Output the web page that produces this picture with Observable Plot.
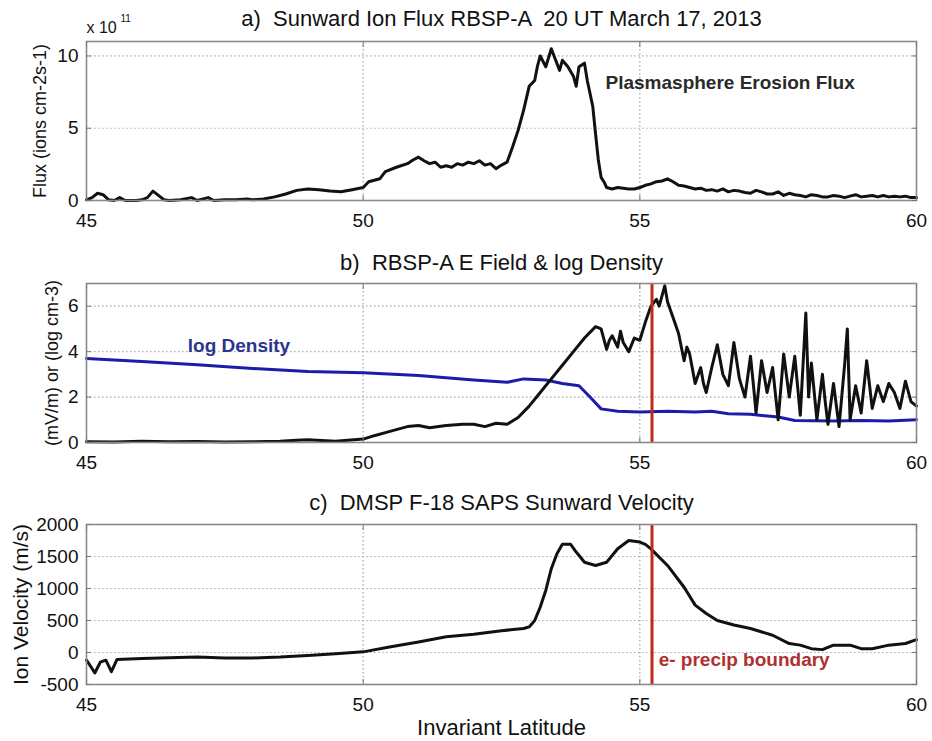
<!DOCTYPE html>
<html><head><meta charset="utf-8">
<script src="https://cdn.jsdelivr.net/npm/d3@7"></script>
<script src="https://cdn.jsdelivr.net/npm/@observablehq/plot@0.6"></script>
<style>
body{margin:0;background:#fff;}
#wrap{position:relative;width:932px;height:741px;font-family:"Liberation Sans",Arial,sans-serif;}
#wrap svg{position:absolute;left:0;overflow:visible}
#wrap svg text{white-space:pre}
</style></head><body><div id="wrap"></div>
<script>
// ---------- data ----------
const xTicks = [45, 50, 55, 60];
const fluxTicks = [0, 5, 10];
const eTicks = [0, 2, 4, 6];
const velTicks = [-500, 0, 500, 1000, 1500, 2000];

const titleA = "a)  Sunward Ion Flux RBSP-A  20 UT March 17, 2013";
const titleB = "b)  RBSP-A E Field & log Density";
const titleC = "c)  DMSP F-18 SAPS Sunward Velocity";
const yLabelA = "Flux (ions cm-2s-1)";
const yLabelB = "(mV/m) or (log cm-3)";
const yLabelC = "Ion Velocity (m/s)";
const xLabel = "Invariant Latitude";

// a) sunward ion flux (x 10^11)
const latA = [45.0,45.1,45.2,45.3,45.4,45.5,45.6,45.7,45.9,46.0,46.1,46.2,46.3,46.4,46.5,46.7,46.9,47.0,47.2,47.3,47.5,47.7,47.9,48.0,48.2,48.4,48.6,48.8,49.0,49.2,49.4,49.6,49.8,50.0,50.1,50.3,50.4,50.6,50.8,50.9,51.0,51.1,51.2,51.3,51.4,51.5,51.6,51.7,51.8,51.9,52.0,52.1,52.2,52.3,52.4,52.5,52.6,52.7,52.8,52.9,53.0,53.1,53.15,53.2,53.3,53.4,53.45,53.55,53.6,53.7,53.8,53.85,53.9,54.0,54.05,54.1,54.15,54.2,54.25,54.3,54.35,54.4,54.5,54.6,54.7,54.8,54.9,55.0,55.1,55.2,55.3,55.4,55.5,55.6,55.7,55.8,55.9,56.0,56.1,56.2,56.3,56.4,56.5,56.6,56.7,56.8,56.9,57.0,57.1,57.2,57.3,57.4,57.5,57.6,57.7,57.8,57.9,58.0,58.1,58.2,58.3,58.4,58.5,58.6,58.7,58.8,58.9,59.0,59.1,59.2,59.3,59.4,59.5,59.6,59.7,59.8,59.9,60.0];
const fluxA = [0.05,0.2,0.5,0.4,0.05,0.0,0.2,0.0,0.0,0.05,0.2,0.65,0.35,0.05,0.0,0.05,0.2,0.0,0.2,0.0,0.05,0.05,0.1,0.05,0.1,0.25,0.45,0.7,0.8,0.75,0.65,0.6,0.75,0.9,1.3,1.5,2.0,2.3,2.55,2.8,3.0,2.75,2.55,2.65,2.3,2.4,2.3,2.55,2.45,2.65,2.55,2.75,2.45,2.55,2.2,2.45,2.65,3.7,4.85,6.25,7.9,8.3,9.3,10.0,9.25,10.5,10.0,9.0,9.7,9.25,8.6,7.9,9.25,9.5,8.3,7.4,6.5,4.6,2.8,1.6,1.3,0.9,0.8,0.9,0.85,0.8,0.8,0.9,1.05,1.15,1.3,1.35,1.5,1.3,1.05,1.0,0.9,0.8,0.85,0.7,0.75,0.65,0.8,0.6,0.7,0.65,0.55,0.5,0.7,0.6,0.45,0.45,0.6,0.35,0.5,0.4,0.35,0.25,0.4,0.35,0.25,0.25,0.35,0.3,0.2,0.3,0.4,0.25,0.3,0.35,0.25,0.35,0.25,0.3,0.25,0.3,0.2,0.2];

// b) E field (mV/m)
const latE = [45.0,45.5,46.0,46.5,47.0,47.5,48.0,48.5,48.8,49.0,49.5,50.0,50.2,50.5,50.8,51.0,51.2,51.5,51.8,52.0,52.2,52.4,52.6,52.8,53.0,53.2,53.4,53.6,53.8,54.0,54.2,54.3,54.4,54.45,54.5,54.6,54.65,54.7,54.8,54.9,55.0,55.1,55.2,55.3,55.35,55.45,55.5,55.6,55.7,55.8,55.85,55.9,56.0,56.1,56.15,56.2,56.3,56.4,56.5,56.6,56.7,56.8,56.9,57.0,57.05,57.1,57.2,57.3,57.4,57.5,57.6,57.7,57.8,57.9,58.0,58.05,58.1,58.2,58.3,58.35,58.4,58.5,58.6,58.7,58.75,58.8,58.9,59.0,59.1,59.2,59.3,59.4,59.5,59.6,59.7,59.8,59.9,60.0];
const eField = [0.03,0.02,0.05,0.03,0.04,0.02,0.03,0.05,0.1,0.12,0.05,0.15,0.3,0.5,0.7,0.75,0.65,0.75,0.8,0.8,0.7,0.85,0.8,1.1,1.6,2.2,2.8,3.4,4.0,4.6,5.1,5.0,4.1,4.5,4.7,4.2,4.9,4.4,4.0,4.6,4.5,5.3,6.0,6.3,6.0,6.9,6.2,5.5,4.8,3.6,4.2,3.9,2.6,3.3,2.6,2.2,3.3,4.3,3.0,2.5,4.4,2.8,2.0,3.8,2.6,1.3,3.6,2.2,3.3,1.0,3.9,2.0,3.8,1.2,5.7,2.0,3.5,1.0,3.0,1.8,0.8,2.6,0.7,3.4,5.0,1.0,2.5,1.3,3.6,1.5,2.5,1.8,2.6,2.2,1.5,2.7,1.8,1.6];

// b) log density (log cm-3)
const latD = [45.0,46.0,47.0,48.0,49.0,50.0,51.0,52.0,52.6,52.9,53.3,53.6,53.9,54.1,54.3,54.6,55.0,55.5,56.0,56.3,56.6,57.0,57.5,57.8,58.5,59.0,59.5,60.0];
const logDensity = [3.7,3.57,3.42,3.26,3.13,3.07,2.95,2.75,2.65,2.8,2.75,2.6,2.5,2.0,1.48,1.38,1.34,1.38,1.34,1.38,1.27,1.24,1.12,0.97,0.95,0.97,0.95,1.0];

// c) DMSP ion velocity (m/s)
const latV = [45.0,45.1,45.15,45.25,45.35,45.45,45.55,46.0,47.0,47.5,48.0,48.5,49.0,49.5,50.0,50.5,51.0,51.5,52.0,52.5,52.9,53.0,53.1,53.2,53.3,53.4,53.5,53.6,53.75,53.85,54.0,54.2,54.4,54.6,54.8,55.0,55.1,55.2,55.5,55.8,56.0,56.2,56.4,56.7,57.0,57.4,57.7,57.9,58.1,58.3,58.5,58.8,59.0,59.2,59.5,59.8,60.0];
const velocity = [-120,-250,-320,-150,-120,-300,-110,-95,-70,-85,-85,-70,-45,-20,10,90,165,245,285,340,375,400,500,710,970,1310,1540,1690,1690,1570,1410,1360,1410,1620,1750,1725,1690,1620,1360,1020,740,610,500,430,375,270,140,115,60,45,115,115,60,60,115,140,200];

// annotations and marker
const boundaryLat = 55.22;
const noteA = "Plasmasphere Erosion Flux";
const noteB = "log Density";
const noteC = "e- precip boundary";

// ---------- drawing ----------
const wrap = document.getElementById("wrap");
const FONT = '"Liberation Sans", Arial, sans-serif';
const dot = {stroke: "#a8a8a8", strokeOpacity: 1, strokeWidth: 1.2, strokeDasharray: "1.5,2.5"};
const plain = d => String(d);

function panel({top, height, mt, mb, yDomain, yTicks, marks, title, titleDy, ylabel, ylabelX, ylabelSize = 18, extra = []}) {
  const svg = Plot.plot({
    width: 932, height,
    marginLeft: 86, marginRight: 16, marginTop: mt, marginBottom: mb,
    style: {fontFamily: FONT, fontSize: "19px", color: "#111", background: "transparent", overflow: "visible"},
    x: {domain: [45, 60]},
    y: {domain: yDomain},
    marks: [
      Plot.gridY(yTicks, dot),
      Plot.gridX([50, 55], dot),
      ...marks,
      Plot.frame({stroke: "#8a8a8a", strokeWidth: 1.6}),
      Plot.axisY(yTicks, {anchor: "left", tickSize: -5, tickPadding: 13, stroke: "#777", label: null, fontSize: 19, tickFormat: plain}),
      Plot.axisY(yTicks, {anchor: "right", tickSize: -5, tickFormat: () => "", stroke: "#777", label: null}),
      Plot.axisX(xTicks, {anchor: "bottom", tickSize: -5, tickPadding: 18, stroke: "#777", label: null, fontSize: 19, tickFormat: plain}),
      Plot.axisX(xTicks, {anchor: "top", tickSize: -5, tickFormat: () => "", stroke: "#777", label: null}),
      Plot.text([title], {frameAnchor: "top", lineAnchor: "middle", dy: titleDy, fontSize: 22, fill: "#111"}),
      Plot.text([ylabel], {frameAnchor: "left", textAnchor: "middle", lineAnchor: "middle", rotate: -90, dx: -(86 - ylabelX), fontSize: ylabelSize, fill: "#111"}),
      ...extra
    ]
  });
  svg.style.top = top + "px";
  wrap.appendChild(svg);
}

// Panel a
panel({
  top: 0, height: 230, mt: 41, mb: 30,
  yDomain: [0, 11], yTicks: fluxTicks,
  marks: [
    Plot.line(latA.map((x, i) => ({x, y: fluxA[i]})), {x: "x", y: "y", stroke: "#111", strokeWidth: 3}),
    Plot.text([noteA], {x: () => 54.38, y: () => 8.15, textAnchor: "start", fontSize: 19, fontWeight: "bold", fill: "#2a2a2a"})
  ],
  title: titleA, titleDy: -23, ylabel: yLabelA, ylabelX: 40,
  extra: [
    Plot.text(["x 10"], {frameAnchor: "top-left", lineAnchor: "bottom", dx: 0, dy: -9, fontSize: 16, textAnchor: "start", fill: "#111"}),
    Plot.text(["11"], {frameAnchor: "top-left", lineAnchor: "bottom", dx: 34, dy: -20, fontSize: 10, textAnchor: "start", fill: "#111"})
  ]
});

// Panel b
panel({
  top: 240, height: 230, mt: 43, mb: 28,
  yDomain: [0, 7], yTicks: eTicks,
  marks: [
    Plot.line(latD.map((x, i) => ({x, y: logDensity[i]})), {x: "x", y: "y", stroke: "#1c1ca8", strokeWidth: 3}),
    Plot.line(latE.map((x, i) => ({x, y: eField[i]})), {x: "x", y: "y", stroke: "#111", strokeWidth: 3}),
    Plot.ruleX([boundaryLat], {stroke: "#c0281e", strokeWidth: 3}),
    Plot.text([noteB], {x: () => 46.83, y: () => 4.25, textAnchor: "start", fontSize: 19, fontWeight: "bold", fill: "#2a3590"})
  ],
  title: titleB, titleDy: -21, ylabel: yLabelB, ylabelX: 52
});

// Panel c
panel({
  top: 480, height: 261, mt: 44, mb: 57,
  yDomain: [-500, 2000], yTicks: velTicks,
  marks: [
    Plot.line(latV.map((x, i) => ({x, y: velocity[i]})), {x: "x", y: "y", stroke: "#111", strokeWidth: 3}),
    Plot.ruleX([boundaryLat], {stroke: "#c0281e", strokeWidth: 3}),
    Plot.text([noteC], {x: () => 55.34, y: () => -120, textAnchor: "start", fontSize: 19, fontWeight: "bold", fill: "#b03030"})
  ],
  title: titleC, titleDy: -22, ylabel: yLabelC, ylabelX: 21, ylabelSize: 21,
  extra: [
    Plot.text([xLabel], {frameAnchor: "bottom", lineAnchor: "middle", dy: 43, fontSize: 22, fill: "#111"})
  ]
});
</script>
</body></html>
